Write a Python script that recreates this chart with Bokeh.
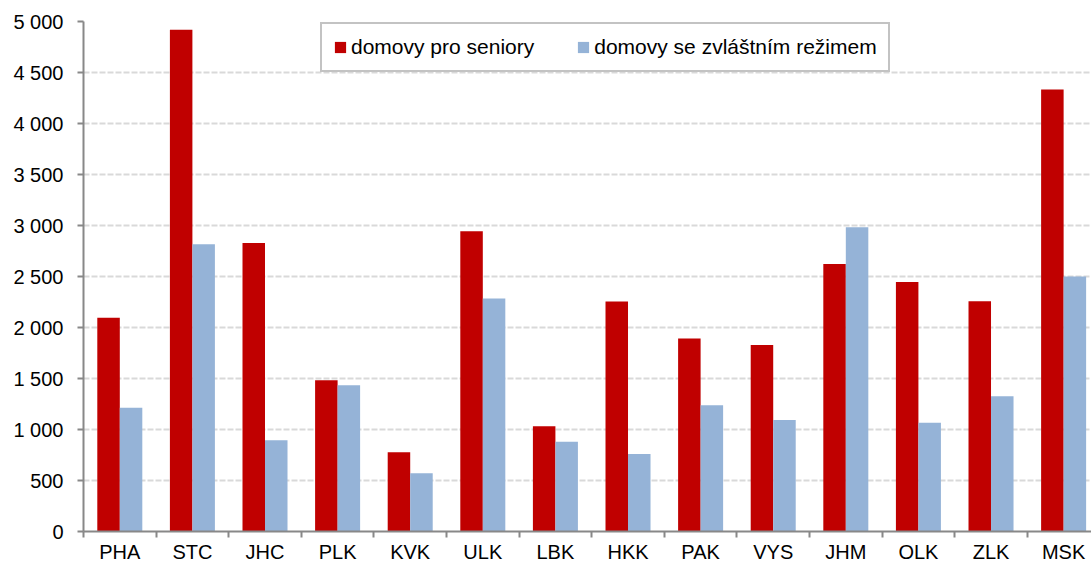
from bokeh.plotting import figure
from bokeh.models import (ColumnDataSource, Range1d, FixedTicker, CustomJSTickFormatter,
                          Legend, LegendItem)
from bokeh.embed import file_html
from bokeh.resources import INLINE

categories = ["PHA", "STC", "JHC", "PLK", "KVK", "ULK", "LBK", "HKK", "PAK", "VYS",
              "JHM", "OLK", "ZLK", "MSK"]
seniors = [2095, 4920, 2829, 1482, 778, 2943, 1032, 2255, 1893, 1828, 2623, 2447, 2258, 4333]
special = [1214, 2816, 895, 1433, 572, 2285, 879, 761, 1238, 1094, 2982, 1065, 1326, 2500]
y_ticks = [0, 500, 1000, 1500, 2000, 2500, 3000, 3500, 4000, 4500, 5000]
series_names = ["domovy pro seniory", "domovy se zvláštním režimem"]

FONT = "Liberation Sans"
RED = "#C00000"
BLUE = "#95B3D7"
GREY = "#888888"

idx = list(range(len(categories)))
bar_w = 0.31
src = ColumnDataSource(dict(
    cat=categories,
    xr=[i + 0.5 - bar_w / 2 for i in idx],
    xb=[i + 0.5 + bar_w / 2 for i in idx],
    seniors=seniors,
    special=special,
))

p = figure(width=1091, height=565, output_backend="svg", toolbar_location=None,
           x_range=Range1d(0, 13.884), y_range=Range1d(0, 5000),
           min_border_left=83, min_border_right=0, min_border_top=21, min_border_bottom=33)
p.outline_line_color = None
p.background_fill_color = "white"
p.border_fill_color = "white"

r1 = p.vbar(x="xr", top="seniors", width=bar_w, source=src, fill_color=RED, line_color=None)
r2 = p.vbar(x="xb", top="special", width=bar_w, source=src, fill_color=BLUE, line_color=None)

# grid
p.xgrid.visible = False
p.ygrid.ticker = FixedTicker(ticks=y_ticks)
p.ygrid.grid_line_color = "#d9d9d9"
p.ygrid.grid_line_dash = "6 2"
p.ygrid.grid_line_width = 2

# y axis
ya = p.yaxis[0]
ya.ticker = FixedTicker(ticks=y_ticks)
ya.formatter = CustomJSTickFormatter(code="""
    return Math.round(tick).toString().replace(/\\B(?=(\\d{3})+(?!\\d))/g, "\\u00a0");
""")
ya.axis_line_color = GREY
ya.axis_line_width = 2
ya.major_tick_line_color = GREY
ya.major_tick_line_width = 2
ya.major_tick_out = 6
ya.major_tick_in = 0
ya.minor_tick_line_color = None
ya.major_label_text_font = FONT
ya.major_label_text_font_size = "20px"
ya.major_label_text_color = "#000000"
ya.major_label_standoff = 14

# x axis
xa = p.xaxis[0]
xa.ticker = FixedTicker(ticks=[i + 0.5 for i in idx], minor_ticks=list(range(len(categories) + 1)))
xa.formatter = CustomJSTickFormatter(args=dict(cats=categories), code="""
    return cats[Math.floor(tick)];
""")
xa.axis_line_color = GREY
xa.axis_line_width = 2
xa.major_tick_line_color = None
xa.major_tick_out = 0
xa.major_tick_in = 0
xa.minor_tick_line_color = GREY
xa.minor_tick_line_width = 2
xa.minor_tick_out = 6
xa.minor_tick_in = 0
xa.major_label_text_font = FONT
xa.major_label_text_font_size = "20px"
xa.major_label_text_color = "#000000"
xa.major_label_standoff = 3

legend = Legend(items=[LegendItem(label=series_names[0], renderers=[r1]),
                       LegendItem(label=series_names[1], renderers=[r2])],
                orientation="horizontal", location=(237, 459),
                glyph_width=14, glyph_height=14, label_standoff=4, spacing=42,
                padding=11, margin=0,
                label_text_font=FONT, label_text_font_size="21px", label_text_color="#000000",
                border_line_color=GREY, border_line_width=2,
                background_fill_color="white", background_fill_alpha=1)
p.add_layout(legend, "center")

open("out.html", "w").write(file_html(p, INLINE))
